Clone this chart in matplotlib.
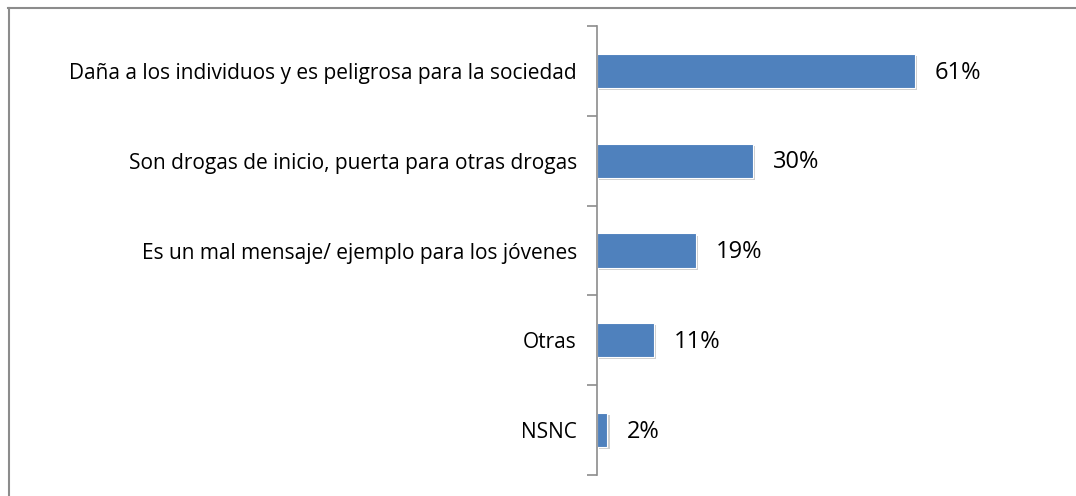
import matplotlib
matplotlib.use("Agg")
import matplotlib.pyplot as plt
from matplotlib.lines import Line2D
import matplotlib.patheffects as pe

categories = [
    "Daña a los individuos y es peligrosa para la sociedad",
    "Son drogas de inicio, puerta para otras drogas",
    "Es un mal mensaje/ ejemplo para los jóvenes",
    "Otras",
    "NSNC",
]
values = [61, 30, 19, 11, 2]

W, H = 1076, 496
fig = plt.figure(figsize=(W / 100, H / 100), dpi=100)
plt.rcParams['font.family'] = ['Open Sans', 'DejaVu Sans']

# frame lines only on top and left, like the clipped chart border
fig.add_artist(Line2D([8 / W, 1], [1 - 7.5 / H] * 2, transform=fig.transFigure, color="#8c8c8c", lw=1.5))
fig.add_artist(Line2D([8.5 / W] * 2, [0, 1 - 7.5 / H], transform=fig.transFigure, color="#8c8c8c", lw=1.5))

ax = fig.add_axes([597 / W, 1 - 475 / H, (1040 - 597) / W, (475 - 26) / H])
pos = list(range(len(categories)))
bars = ax.barh(pos, values, height=0.38, color="#4f81bd", edgecolor="white", linewidth=0.8,
               path_effects=[pe.SimplePatchShadow(offset=(1.5, -1.5), shadow_rgbFace="#b0b0b0", alpha=0.6), pe.Normal()])
ax.set_ylim(len(categories) - 0.5, -0.5)
ax.set_xlim(0, 85)

for b, v in zip(bars, values):
    ax.text(b.get_width() + 3.8, b.get_y() + b.get_height() / 2 + 0.02, f"{v}%",
            va="center", ha="left", fontsize=17)

ax.set_yticks(pos)
ax.set_yticklabels(categories, fontsize=15)
ax.set_yticks([p - 0.5 for p in range(len(categories) + 1)], minor=True)
ax.tick_params(axis="y", which="major", length=0, pad=14.5)
ax.tick_params(axis="y", which="minor", length=7, color="#8c8c8c", width=1.2)
ax.set_xticks([])
for s in ["top", "right", "bottom"]:
    ax.spines[s].set_visible(False)
ax.spines["left"].set_color("#8c8c8c")
ax.spines["left"].set_linewidth(1.2)

fig.savefig("out.png", dpi=100)
